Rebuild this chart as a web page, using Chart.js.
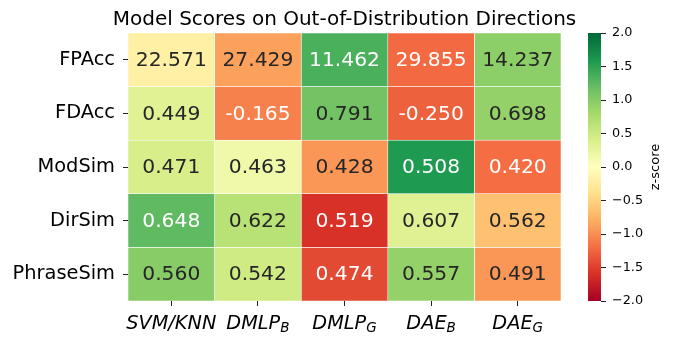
<!DOCTYPE html>
<html>
<head>
<meta charset="utf-8">
<script src="https://cdn.jsdelivr.net/npm/chart.js@4.4.1/dist/chart.umd.min.js"></script>
<style>
  html, body { margin: 0; padding: 0; background: #fff; }
  #wrap { position: relative; width: 674px; height: 343px; }
  #heat { position: absolute; left: 0; top: 0; }
  #cbar { position: absolute; left: 588px; top: 0; }
</style>
</head>
<body>
<div id="wrap">
  <canvas id="heat" width="674" height="343"></canvas>
  <canvas id="cbar" width="86" height="343"></canvas>
</div>
<script>
// rows and columns of the heatmap
const metrics = ['FPAcc', 'FDAcc', 'ModSim', 'DirSim', 'PhraseSim'];
const modelNames = ['SVM/KNN', 'DMLP', 'DMLP', 'DAE', 'DAE'];
const modelSubs = ['', 'B', 'G', 'B', 'G'];

// raw scores, one array per model (rows in metric order)
const svmKnn = [22.571, 0.449, 0.471, 0.648, 0.560];
const dmlpB = [27.429, -0.165, 0.463, 0.622, 0.542];
const dmlpG = [11.462, 0.791, 0.428, 0.519, 0.474];
const daeB = [29.855, -0.250, 0.508, 0.607, 0.557];
const daeG = [14.237, 0.698, 0.420, 0.562, 0.491];

// z-scores used for the cell colours
const zSvmKnn = [-0.20, 0.33, 0.41, 1.23, 0.99];
const zDmlpB = [-0.88, -1.08, 0.16, 0.66, 0.48];
const zDmlpG = [1.34, 1.12, -0.95, -1.59, -1.43];
const zDaeB = [-1.22, -1.28, 1.58, 0.34, 0.91];
const zDaeG = [0.96, 0.91, -1.20, -0.65, -0.95];

const colorbarTicks = [-2, -1.5, -1, -0.5, 0, 0.5, 1, 1.5, 2];

const scores = [svmKnn, dmlpB, dmlpG, daeB, daeG];
const zscores = [zSvmKnn, zDmlpB, zDmlpG, zDaeB, zDaeG];

const titleText = 'Model Scores on Out-of-Distribution Directions';

Chart.defaults.font.family = "'DejaVu Sans'";
Chart.defaults.color = '#000';

// RdYlGn, -2 .. 2
const rdylgn = ['#a50026', '#d73027', '#f46d43', '#fdae61', '#fee08b', '#ffffbf',
                '#d9ef8b', '#a6d96a', '#66bd63', '#1a9850', '#006837'];
const hex = h => [1, 3, 5].map(k => parseInt(h.slice(k, k + 2), 16));

function cmapRgb(z) {
  const t = Math.min(1, Math.max(0, (z + 2) / 4)) * 10;
  const i = Math.min(9, Math.floor(t));
  const f = t - i;
  const a = hex(rdylgn[i]), b = hex(rdylgn[i + 1]);
  return a.map((v, k) => Math.round(v + (b[k] - v) * f));
}
const rgbStr = c => `rgb(${c[0]},${c[1]},${c[2]})`;

function textColor(c) {
  const lin = c.map(v => {
    v /= 255;
    return v <= 0.03928 ? v / 12.92 : Math.pow((v + 0.055) / 1.055, 2.4);
  });
  const lum = 0.2126 * lin[0] + 0.7152 * lin[1] + 0.0722 * lin[2];
  return lum > 0.408 ? '#262626' : '#ffffff';
}

const cellText = {
  id: 'cellText',
  afterDatasetsDraw(chart) {
    const ctx = chart.ctx;
    ctx.save();
    ctx.font = "20.3px 'DejaVu Sans'";
    ctx.textAlign = 'center';
    ctx.textBaseline = 'middle';
    chart.data.datasets.forEach((ds, j) => {
      chart.getDatasetMeta(j).data.forEach((bar, i) => {
        const p = bar.getCenterPoint();
        ctx.fillStyle = textColor(ds.rgb[i]);
        ctx.fillText(ds.scores[i].toFixed(3), p.x, p.y + 1);
      });
    });
    ctx.restore();
  },
  afterDraw(chart) {
    const ctx = chart.ctx;
    const xs = chart.scales.x;
    const area = chart.chartArea;
    ctx.save();
    ctx.fillStyle = '#000';

    // title centred over the cells
    ctx.font = "20px 'DejaVu Sans'";
    ctx.textAlign = 'center';
    ctx.textBaseline = 'alphabetic';
    ctx.fillText(titleText, (area.left + area.right) / 2, 25);

    // model names with subscripts under the columns
    const base = "italic 19.3px 'DejaVu Sans'";
    const sub = "italic 13.5px 'DejaVu Sans'";
    ctx.textAlign = 'left';
    modelNames.forEach((name, j) => {
      ctx.font = base;
      const w1 = ctx.measureText(name).width;
      ctx.font = sub;
      const w2 = modelSubs[j] ? ctx.measureText(modelSubs[j]).width : 0;
      const x0 = xs.getPixelForValue(j + 0.5) - (w1 + w2) / 2;
      ctx.font = base;
      ctx.fillText(name, x0, 329);
      if (modelSubs[j]) {
        ctx.font = sub;
        ctx.fillText(modelSubs[j], x0 + w1, 331.5);
      }
    });
    ctx.restore();
  }
};

new Chart(document.getElementById('heat'), {
  type: 'bar',
  data: {
    labels: metrics,
    datasets: scores.map((vals, j) => {
      const rgb = zscores[j].map(cmapRgb);
      return {
        label: modelNames[j] + modelSubs[j],
        data: vals.map(() => [j, j + 1]),
        scores: vals,
        rgb: rgb,
        backgroundColor: rgb.map(rgbStr),
        borderColor: '#ffffff',
        borderWidth: 0.6,
        borderSkipped: false,
        barPercentage: 1,
        categoryPercentage: 1,
        grouped: false
      };
    })
  },
  options: {
    responsive: false,
    animation: false,
    indexAxis: 'y',
    layout: { padding: { top: 33, right: 113, bottom: 0, left: 0 } },
    plugins: {
      legend: { display: false },
      tooltip: { enabled: false },
      title: { display: false }
    },
    scales: {
      x: {
        type: 'linear',
        min: 0,
        max: 5,
        afterBuildTicks: s => { s.ticks = [0.5, 1.5, 2.5, 3.5, 4.5].map(v => ({ value: v })); },
        ticks: { display: false },
        grid: { drawOnChartArea: false, tickLength: 5, color: '#222' },
        border: { display: false },
        afterFit: s => { s.height = 42; }
      },
      y: {
        ticks: { font: { size: 19.4 }, color: '#000', padding: 8 },
        grid: { drawOnChartArea: false, offset: false, tickLength: 5, color: '#222' },
        border: { display: false },
        afterFit: s => { s.width = 128; }
      }
    }
  },
  plugins: [cellText]
});

// colour bar
const cbarLabel = {
  id: 'cbarLabel',
  afterDraw(chart) {
    const ctx = chart.ctx;
    const a = chart.chartArea;
    ctx.save();
    ctx.translate(68, (a.top + a.bottom) / 2);
    ctx.rotate(-Math.PI / 2);
    ctx.font = "13px 'DejaVu Sans'";
    ctx.fillStyle = '#000';
    ctx.textAlign = 'center';
    ctx.textBaseline = 'middle';
    ctx.fillText('z-score', 0, 0);
    ctx.restore();
  }
};

new Chart(document.getElementById('cbar'), {
  type: 'bar',
  data: {
    labels: [''],
    datasets: [{
      data: [[colorbarTicks[0], colorbarTicks[colorbarTicks.length - 1]]],
      backgroundColor: c => {
        const a = c.chart.chartArea;
        if (!a) return null;
        const g = c.chart.ctx.createLinearGradient(0, a.bottom, 0, a.top);
        rdylgn.forEach((col, k) => g.addColorStop(k / 10, col));
        return g;
      },
      borderWidth: 0,
      barPercentage: 1,
      categoryPercentage: 1
    }]
  },
  options: {
    responsive: false,
    animation: false,
    layout: { padding: { top: 33, bottom: 42, left: 0, right: 0 } },
    plugins: { legend: { display: false }, tooltip: { enabled: false } },
    scales: {
      x: { display: false },
      y: {
        position: 'right',
        min: -2,
        max: 2,
        afterBuildTicks: s => { s.ticks = colorbarTicks.map(v => ({ value: v })); },
        ticks: {
          font: { size: 12.8 },
          color: '#000',
          padding: 6,
          callback: v => v.toFixed(1).replace('-', '\u2212')
        },
        grid: { drawOnChartArea: false, tickLength: 5, color: '#222' },
        border: { display: false },
        afterFit: s => { s.width = 73; }
      }
    }
  },
  plugins: [cbarLabel]
});
</script>
</body>
</html>
